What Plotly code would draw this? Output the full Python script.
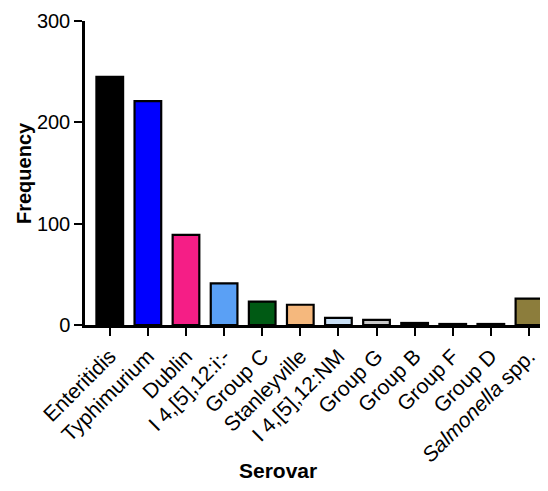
import plotly.graph_objects as go

serovars = ["Enteritidis", "Typhimurium", "Dublin", "I 4,[5],12:i:-", "Group C",
            "Stanleyville", "I 4,[5],12:NM", "Group G", "Group B", "Group F",
            "Group D", "<i>Salmonella</i> spp."]
frequency = [245, 221, 89, 41, 23, 20, 7, 5, 2, 1, 1, 26]
colors = ["#000000", "#0000FF", "#F51E86", "#5AA0F5", "#005A14", "#F5B87D",
          "#C8DFF5", "#C8C8C8", "#000000", "#000000", "#000000", "#8C7D3C"]
y_ticks = [0, 100, 200, 300]

# page body has an 8px margin, so the figure is offset by 8px
OFF = 8
W, H = 548 - OFF, 491 - OFF
l, r, t, b = 85 - OFF, 0, 21 - OFF, 166
pw, ph = W - l - r, H - t - b

def px2paper(px, py):
    return (px - OFF - l) / pw, (H - b - (py - OFF)) / ph

fig = go.Figure(go.Bar(
    x=list(range(len(serovars))), y=frequency,
    marker=dict(color=colors, line=dict(color="black", width=2.2)),
    width=0.7,
))

ax_f, ay_f = px2paper(24, 173)
ax_s, ay_s = px2paper(278, 471)

fig.update_layout(
    width=W, height=H,
    margin=dict(l=l, r=r, t=t, b=b, autoexpand=False),
    plot_bgcolor="white", paper_bgcolor="white",
    font=dict(family="Liberation Sans, Arial", size=18, color="black"),
    showlegend=False,
    xaxis=dict(
        range=[-0.65, 11.5], automargin=False,
        tickmode="array", tickvals=list(range(len(serovars))), ticktext=serovars,
        tickangle=-45, ticks="outside", ticklen=8, tickwidth=2, tickcolor="black",
        showline=True, linecolor="black", linewidth=2.5, showgrid=False,
        zeroline=False, tickfont=dict(size=21),
    ),
    yaxis=dict(
        range=[0, 300], tickvals=y_ticks, automargin=False,
        ticks="outside", ticklen=8, tickwidth=2, tickcolor="black",
        showline=True, linecolor="black", linewidth=2.5, showgrid=False,
        zeroline=False, tickfont=dict(size=20),
    ),
    annotations=[
        dict(text="<b>Frequency</b>", x=ax_f, y=ay_f, xref="paper", yref="paper",
             xanchor="center", yanchor="middle",
             showarrow=False, textangle=-90, font=dict(size=20)),
        dict(text="<b>Serovar</b>", x=ax_s, y=ay_s, xref="paper", yref="paper",
             xanchor="center", yanchor="middle",
             showarrow=False, font=dict(size=21)),
    ],
)
fig.write_html("out.html")
